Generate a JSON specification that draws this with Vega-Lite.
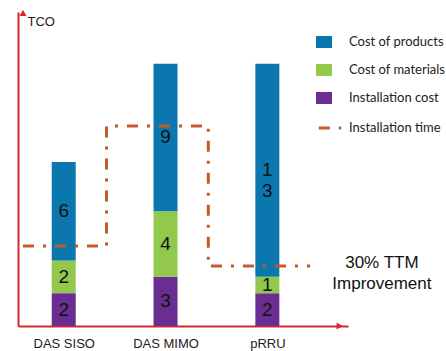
{
  "$schema": "https://vega.github.io/schema/vega-lite/v6.json",
  "width": 330,
  "height": 314,
  "autosize": {"type": "none"},
  "padding": {"left": 18, "top": 12, "right": 98, "bottom": 25},
  "background": "white",
  "config": {"view": {"stroke": null}, "font": "Liberation Sans"},
  "datasets": {
    "bars": [
      {"pos": 1, "site": "DAS SISO", "part": "Installation cost", "order": 1, "value": 2, "label": "2"},
      {"pos": 1, "site": "DAS SISO", "part": "Cost of materials", "order": 2, "value": 2, "label": "2"},
      {"pos": 1, "site": "DAS SISO", "part": "Cost of products", "order": 3, "value": 6, "label": "6"},
      {"pos": 2, "site": "DAS MIMO", "part": "Installation cost", "order": 1, "value": 3, "label": "3"},
      {"pos": 2, "site": "DAS MIMO", "part": "Cost of materials", "order": 2, "value": 4, "label": "4"},
      {"pos": 2, "site": "DAS MIMO", "part": "Cost of products", "order": 3, "value": 9, "label": "9"},
      {"pos": 3, "site": "pRRU", "part": "Installation cost", "order": 1, "value": 2, "label": "2"},
      {"pos": 3, "site": "pRRU", "part": "Cost of materials", "order": 2, "value": 1, "label": "1"},
      {"pos": 3, "site": "pRRU", "part": "Cost of products", "order": 3, "value": 13, "label": "1|3"}
    ],
    "time": [
      {"x": 0.6, "t": 4.88, "series": "Installation time"},
      {"x": 1.42, "t": 12.2, "series": "Installation time"},
      {"x": 2.42, "t": 3.66, "series": "Installation time"},
      {"x": 3.42, "t": 3.66, "series": "Installation time"}
    ]
  },
  "layer": [
    {
      "data": {"name": "bars"},
      "mark": {"type": "bar", "width": 24},
      "encoding": {
        "x": {
          "field": "pos", "type": "quantitative",
          "scale": {"domain": [0.6, 3.743], "nice": false, "zero": false},
          "axis": {
            "values": [1, 2, 3],
            "labelExpr": "datum.value == 1 ? 'DAS SISO' : datum.value == 2 ? 'DAS MIMO' : 'pRRU'",
            "title": null, "grid": false, "ticks": false,
            "domainColor": "#d42a2f", "domainWidth": 2,
            "labelFont": "Liberation Sans", "labelFontSize": 13, "labelColor": "#222222",
            "labelPadding": 11, "labelFlush": false
          }
        },
        "y": {
          "field": "value", "type": "quantitative", "stack": "zero",
          "scale": {"domain": [0, 19.15], "nice": false},
          "axis": {
            "title": "TCO", "titleAngle": 0, "titleAlign": "left", "titleBaseline": "middle",
            "titleX": 9, "titleY": 9, "titleFont": "Liberation Sans", "titleFontSize": 13,
            "titleFontWeight": "normal", "titleColor": "#222222",
            "labels": false, "ticks": false, "grid": false,
            "domainColor": "#d42a2f", "domainWidth": 2
          }
        },
        "order": {"field": "order", "type": "quantitative"},
        "color": {
          "field": "part", "type": "nominal",
          "scale": {
            "domain": ["Cost of products", "Cost of materials", "Installation cost"],
            "range": ["#0a78ae", "#92c84b", "#6a2e92"]
          },
          "legend": {
            "title": null, "orient": "none", "legendX": 298, "legendY": 22,
            "symbolType": "M-1,-0.75H1V0.75H-1Z", "symbolSize": 256, "symbolStrokeWidth": 0,
            "labelFont": "Lato", "labelFontSize": 13, "labelColor": "#222222",
            "labelOffset": 17, "rowPadding": 13, "padding": 0
          }
        }
      }
    },
    {
      "data": {"name": "bars"},
      "transform": [
        {"stack": "value", "groupby": ["pos"], "sort": [{"field": "order"}], "as": ["v0", "v1"]},
        {"calculate": "(datum.v0 + datum.v1) / 2", "as": "mid"}
      ],
      "mark": {"type": "text", "fontSize": 19, "font": "Liberation Sans", "color": "#111111", "lineBreak": "|", "lineHeight": 21, "baseline": "middle"},
      "encoding": {
        "x": {"field": "pos", "type": "quantitative"},
        "y": {"field": "mid", "type": "quantitative"},
        "text": {"field": "label"}
      }
    },
    {
      "data": {"name": "time"},
      "mark": {"type": "line", "interpolate": "step-after", "strokeWidth": 3, "strokeDash": [11, 9, 3, 9]},
      "encoding": {
        "x": {"field": "x", "type": "quantitative"},
        "y": {"field": "t", "type": "quantitative"},
        "stroke": {
          "field": "series", "type": "nominal",
          "scale": {"domain": ["Installation time"], "range": ["#c55a28"]},
          "legend": {
            "title": null, "orient": "none", "legendX": 299, "legendY": 103,
            "symbolType": "stroke", "symbolSize": 500, "symbolStrokeWidth": 3,
            "symbolDash": [11, 9, 3, 9], "symbolStrokeColor": "#c55a28",
            "labelFont": "Lato", "labelFontSize": 13, "labelColor": "#222222",
            "labelOffset": 6, "padding": 0
          }
        }
      }
    },
    {
      "data": {"values": [{"note": "30% TTM|Improvement"}]},
      "mark": {"type": "text", "fontSize": 17, "font": "Liberation Sans", "color": "#111111", "lineBreak": "|", "lineHeight": 21, "align": "center", "baseline": "middle"},
      "encoding": {
        "x": {"datum": 4.125},
        "y": {"datum": 3.85},
        "text": {"field": "note"}
      }
    },
    {
      "data": {"values": [{"a": "y"}]},
      "mark": {"type": "point", "shape": "triangle-up", "filled": true, "size": 50, "color": "#d42a2f", "opacity": 1},
      "encoding": {"x": {"datum": 0.6}, "y": {"datum": 19.1}}
    },
    {
      "data": {"values": [{"a": "x"}]},
      "mark": {"type": "point", "shape": "triangle-right", "filled": true, "size": 50, "color": "#d42a2f", "opacity": 1},
      "encoding": {"x": {"datum": 3.71}, "y": {"datum": 0}}
    }
  ]
}
